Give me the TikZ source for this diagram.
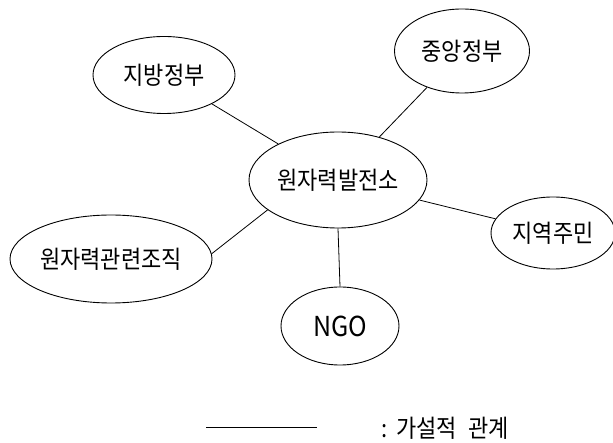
\documentclass[tikz,border=0pt]{standalone}
\usepackage{fontspec}
\setmainfont{Noto Sans CJK KR}
\usetikzlibrary{shapes.geometric}
\begin{document}
\begin{tikzpicture}[x=1pt,y=-1pt,
  oval/.style={draw,ellipse,line width=0.9pt,inner sep=0pt,font=\fontsize{22}{24}\selectfont},
  link/.style={line width=0.8pt}]
\useasboundingbox (0,0) rectangle (613,443);
\node[oval,minimum width=142pt,minimum height=77pt] (local) at (164,75) {\scalebox{1}[1.12]{지방정부}};
\node[oval,minimum width=135pt,minimum height=84pt] (central) at (462,51) {\scalebox{1}[1.12]{중앙정부}};
\node[oval,minimum width=178pt,minimum height=96pt] (plant) at (338,180) {\scalebox{1}[1.12]{원자력발전소}};
\node[oval,minimum width=124pt,minimum height=72pt] (resid) at (553,233) {\scalebox{1}[1.12]{지역주민}};
\node[oval,minimum width=202pt,minimum height=88pt] (org) at (111,259) {\scalebox{1}[1.12]{원자력관련조직}};
\node[oval,minimum width=118pt,minimum height=78pt,font=\fontsize{25}{27}\selectfont] (ngo) at (340,326) {\scalebox{1}[1.1]{NGO}};
\draw[link] (local) -- (plant);
\draw[link] (central) -- (plant);
\draw[link] (plant) -- (resid);
\draw[link] (plant.203.5) -- (org.3.4);
\draw[link] (plant.south) -- (ngo.north);
\coordinate (l1) at (206,427);
\coordinate (l2) at (317,427);
\draw[line width=0.9pt] (l1) -- (l2);
\node[anchor=west,inner sep=0pt,font=\fontsize{22}{24}\selectfont] (legend) at (381,428) {\scalebox{1}[1.12]{:\hspace{9pt}가설적\hspace{11pt}관계}};
\end{tikzpicture}
\end{document}
